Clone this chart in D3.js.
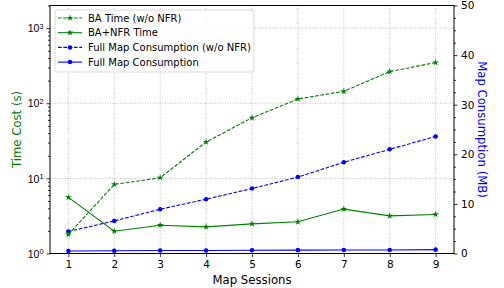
<!DOCTYPE html>
<html><head><meta charset="utf-8">
<script src="https://cdn.jsdelivr.net/npm/d3@7"></script>
<style>body{margin:0;background:#fff}svg{display:block;font-family:"DejaVu Sans",sans-serif}</style>
</head><body>
<svg id="c" width="504" height="288"></svg>
<script>
const sessions = [1,2,3,4,5,6,7,8,9];
const baTimeNoNFR = [1.79, 8.3, 10.2, 30.5, 64, 114, 144, 264, 348];
const baNfrTime = [5.58, 1.98, 2.38, 2.26, 2.48, 2.64, 3.9, 3.17, 3.31];
const mapConsNoNFR = [4.43, 6.57, 8.93, 10.95, 13.1, 15.4, 18.4, 21.0, 23.6];
const mapCons = [0.5, 0.55, 0.6, 0.62, 0.65, 0.68, 0.7, 0.72, 0.78];
const leftTicks = [1, 10, 100, 1000];
const rightTicks = [0, 10, 20, 30, 40, 50];
const legendLabels = ["BA Time (w/o NFR)", "BA+NFR Time", "Full Map Consumption (w/o NFR)", "Full Map Consumption"];

const svg = d3.select("#c");
const L = 50, R = 454, T = 5.5, B = 253.5;
const GREEN = "#008000", BLUE = "#0000ff";

const x = d3.scaleLinear().domain([0.6, 9.4]).range([L, R]);
const yL = d3.scaleLog().domain([1, 2000]).range([B, T]);
const yR = d3.scaleLinear().domain([0, 50]).range([B, T]);

// grid
const g = svg.append("g");
sessions.forEach(s => g.append("line").attr("x1", x(s)).attr("x2", x(s)).attr("y1", T).attr("y2", B)
  .attr("stroke", "#b0b0b0").attr("stroke-width", 0.8).attr("stroke-dasharray", "1,1.5"));
leftTicks.forEach(v => g.append("line").attr("x1", L).attr("x2", R).attr("y1", yL(v)).attr("y2", yL(v))
  .attr("stroke", "#b0b0b0").attr("stroke-width", 0.8).attr("stroke-dasharray", "1,1.5"));

// axes
const ax = d3.axisBottom(x).tickValues(sessions).tickSize(3.5).tickPadding(3.5).tickFormat(d3.format("d"));
const xa = svg.append("g").attr("transform", `translate(0,${B})`).call(ax);

const minorL = [];
for (let d = 1; d < 2000; d *= 10) for (let m = 2; m <= 9; m++) if (d*m <= 2000) minorL.push(d*m);
svg.append("g").attr("transform", `translate(${L},0)`).call(d3.axisLeft(yL).tickValues(minorL).tickSize(2).tickFormat(""));
const ya = svg.append("g").attr("transform", `translate(${L},0)`).call(d3.axisLeft(yL).tickValues(leftTicks).tickSize(3.5).tickPadding(3.5).tickFormat(""));
ya.selectAll(".tick").each(function(d){
  const t = d3.select(this).append("text").attr("x", -6.5).attr("dy", "0.35em").attr("fill", "#000")
    .attr("text-anchor", "end").style("font-size", "10.5px");
  t.append("tspan").text("10");
  t.append("tspan").text(Math.round(Math.log10(d))).attr("dy", "-0.45em").style("font-size", "7.4px");
});

const minorR = d3.range(0, 50.01, 2.5).filter(v => v % 10 !== 0);
svg.append("g").attr("transform", `translate(${R},0)`).call(d3.axisRight(yR).tickValues(minorR).tickSize(2).tickFormat(""));
const yra = svg.append("g").attr("transform", `translate(${R},0)`).call(d3.axisRight(yR).tickValues(rightTicks).tickSize(3.5).tickPadding(3.5));

svg.selectAll(".domain").remove();
svg.selectAll(".tick line").attr("stroke", "#000").attr("stroke-width", 0.8);
xa.selectAll(".tick text").style("font-size", "10.5px").attr("fill", "#000").style("font-family", "DejaVu Sans");
yra.selectAll(".tick text").style("font-size", "10.5px").attr("fill", "#000").style("font-family", "DejaVu Sans");
// frame
svg.append("rect").attr("x", L).attr("y", T).attr("width", R-L).attr("height", B-T)
  .attr("fill", "none").attr("stroke", "#000").attr("stroke-width", 1);

// series
const star = d3.symbol().type(d3.symbolStar).size(14);
const circ = d3.symbol().type(d3.symbolCircle).size(16);
function series(vals, ys, color, dashed, sym) {
  const line = d3.line().x((d,i) => x(sessions[i])).y(d => ys(d));
  svg.append("path").datum(vals).attr("d", line).attr("fill", "none").attr("stroke", color)
    .attr("stroke-width", 1.1).attr("stroke-dasharray", dashed ? "3.7,1.6" : null);
  svg.append("g").selectAll("path").data(vals).join("path")
    .attr("transform", (d,i) => `translate(${x(sessions[i])},${ys(d)})`).attr("d", sym).attr("fill", color);
}
series(mapConsNoNFR, yR, BLUE, true, circ);
series(mapCons, yR, BLUE, false, circ);
series(baTimeNoNFR, yL, GREEN, true, star);
series(baNfrTime, yL, GREEN, false, star);

// labels
svg.append("text").attr("x", (L+R)/2).attr("y", 283.5).attr("text-anchor", "middle").style("font-size", "11.7px").text("Map Sessions");
svg.append("text").attr("transform", `translate(21,${(T+B)/2}) rotate(-90)`).attr("text-anchor", "middle")
  .attr("fill", GREEN).style("font-size", "11.7px").text("Time Cost (s)");
svg.append("text").attr("transform", `translate(477.5,${(T+B)/2}) rotate(90)`).attr("text-anchor", "middle")
  .attr("fill", BLUE).style("font-size", "11.7px").text("Map Consumption (MB)");

// legend
const lg = svg.append("g");
lg.append("rect").attr("x", 55).attr("y", 10).attr("width", 199).attr("height", 62).attr("rx", 2)
  .attr("fill", "#fff").attr("fill-opacity", 0.8).attr("stroke", "#d0d0d0").attr("stroke-width", 0.8);
const legSpec = [[GREEN, true, star], [GREEN, false, star], [BLUE, true, circ], [BLUE, false, circ]];
legendLabels.forEach((lab, i) => {
  const yy = 18 + i * 14.7;
  const [c, dsh, sym] = legSpec[i];
  lg.append("line").attr("x1", 58).attr("x2", 82).attr("y1", yy).attr("y2", yy).attr("stroke", c)
    .attr("stroke-width", 1.1).attr("stroke-dasharray", dsh ? "3.7,1.6" : null);
  lg.append("path").attr("transform", `translate(70,${yy})`).attr("d", sym).attr("fill", c);
  lg.append("text").attr("x", 88).attr("y", yy).attr("dy", "0.35em").style("font-size", "10px").text(lab);
});
</script>
</body></html>
